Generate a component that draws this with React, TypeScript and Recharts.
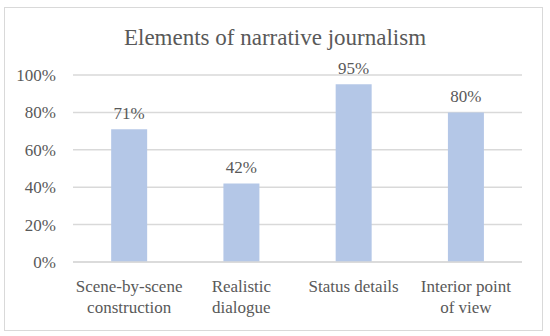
import { Bar, BarChart, CartesianGrid, LabelList, XAxis, YAxis } from 'recharts'

const categories = ['Scene-by-scene construction', 'Realistic dialogue', 'Status details', 'Interior point of view']
const categoryLines = [['Scene-by-scene', 'construction'], ['Realistic', 'dialogue'], ['Status details'], ['Interior point', 'of view']]
const shares = [0.71, 0.42, 0.95, 0.8]
const yTicks = [0, 0.2, 0.4, 0.6, 0.8, 1]

const data = categories.map((name, i) => ({ name, value: shares[i] }))

const FONT = '"Liberation Serif", serif'
const TEXT = '#595959'

const pct = (v: number) => `${Math.round(v * 100)}%`

function CategoryTick(props: any) {
  const { x, y, index } = props
  const lines = categoryLines[index] || []
  return (
    <text x={x} y={y} textAnchor="middle" fill={TEXT} style={{ fontFamily: FONT, fontSize: 17 }}>
      {lines.map((line, i) => (
        <tspan key={line} x={x} dy={i === 0 ? 22 : 21}>
          {line}
        </tspan>
      ))}
    </text>
  )
}

function ValueLabel(props: any) {
  const { x, y, width, value } = props
  return (
    <text x={x + width / 2} y={y - 10} textAnchor="middle" fill={TEXT} style={{ fontFamily: FONT, fontSize: 17 }}>
      {pct(Number(value))}
    </text>
  )
}

export default function App() {
  return (
    <div style={{ position: 'absolute', left: 0, top: 0, width: 550, height: 336, background: '#fff', fontFamily: FONT }}>
      <div
        style={{
          position: 'absolute',
          left: 4,
          top: 7,
          width: 537,
          height: 322,
          border: '1.5px solid #d9d9d9',
        }}
      />
      <div
        style={{
          position: 'absolute',
          left: 0,
          top: 24,
          width: 550,
          textAlign: 'center',
          fontFamily: FONT,
          fontSize: 23,
          color: TEXT,
          lineHeight: '28px',
        }}
      >
        Elements of narrative journalism
      </div>
      <div style={{ position: 'absolute', left: 0, top: 0 }}>
        <BarChart width={550} height={336} data={data} margin={{ top: 75, right: 28, bottom: 14, left: 0 }} barCategoryGap="34%">
          <CartesianGrid vertical={false} stroke="#d9d9d9" strokeWidth={1.5} />
          <XAxis dataKey="name" axisLine={{ stroke: '#d9d9d9', strokeWidth: 1.5 }} tickLine={false} tick={<CategoryTick />} height={60} interval={0} />
          <YAxis
            domain={[0, 1]}
            ticks={yTicks}
            tickFormatter={pct}
            axisLine={false}
            tickLine={false}
            tickSize={0}
            tickMargin={17}
            width={73}
            tick={{ fill: TEXT, fontSize: 17, style: { fontFamily: FONT } }}
          />
          <Bar dataKey="value" fill="#b4c7e7" isAnimationActive={false}>
            <LabelList dataKey="value" content={<ValueLabel />} />
          </Bar>
        </BarChart>
      </div>
    </div>
  )
}
